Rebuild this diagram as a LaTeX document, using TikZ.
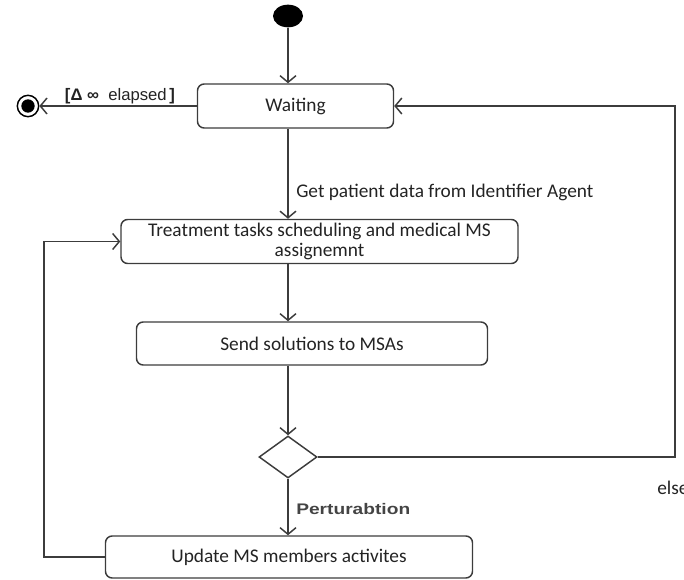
\documentclass[tikz,border=0pt]{standalone}
\usepackage{fontspec}
\setmainfont{Carlito}
\newfontfamily\arialfont{Liberation Sans}
\usetikzlibrary{arrows.meta,shapes.geometric}
\definecolor{linegray}{RGB}{60,60,60}
\definecolor{textgray}{RGB}{35,35,35}

\tikzset{
  state/.style={draw=linegray, rounded corners=5pt, line width=1.1pt, inner sep=0pt,
    text=textgray, font=\fontsize{14.5}{15.5}\selectfont},
  flow/.style={draw=linegray, line width=1.1pt, -{Straight Barb[length=5pt,width=12pt]}},
  guard/.style={text=textgray, font=\fontsize{14.5}{16}\selectfont, inner sep=0pt},
}

\begin{document}
\begin{tikzpicture}[x=0.75pt,y=-0.75pt]
\useasboundingbox (0,0) rectangle (684,580);

\node[ellipse, fill=black, minimum width=22.5pt, minimum height=17pt, inner sep=0pt] (init) at (288,16) {};
\node[state, minimum width=147pt, minimum height=33pt] (wait) at (295.5,106) {Waiting};
\node[state, minimum width=297.75pt, minimum height=33pt, align=center] (treat) at (319.5,241.5)
  {Treatment tasks scheduling and medical MS\\assignemnt};
\node[state, minimum width=263.25pt, minimum height=32.25pt] (send) at (312,343.5) {Send solutions to MSAs};
\node[diamond, draw=linegray, line width=1.1pt, minimum width=43.5pt, minimum height=31.5pt, inner sep=0pt] (dec) at (288,457) {};
\node[state, minimum width=275.25pt, minimum height=31.5pt] (upd) at (289,557) {Update MS members activites};

\node[circle, draw=black, line width=1.1pt, minimum size=16pt, inner sep=0pt] (final) at (28,106) {};
\node[circle, fill=black, minimum size=10pt, inner sep=0pt] (finaldot) at (final) {};

\coordinate (elsecorner) at (675,457);
\coordinate (loopcorner) at (44,557);

\draw[flow] (init) -- (wait.north -| init);
\draw[flow] (wait.west) -- (final);
\draw[flow] (wait.south -| init) -- (treat.north -| init);
\draw[flow] (treat.south -| init) -- (send.north -| init);
\draw[flow] (send.south -| init) -- (dec.north);
\draw[flow] (dec.south) -- (upd.north -| dec);
\draw[flow] (dec.east) -- (elsecorner) |- (wait.east);
\draw[flow] (upd.west) -- (loopcorner) |- (treat.west);

\node[guard, font=\arialfont\fontsize{12.5}{14}\selectfont] (elapsed) at (120,96) {\textbf{[Δ ∞} \ elapsed\,\textbf{]}};
\node[guard, anchor=west] (getdata) at (296,192) {Get patient data from Identifier Agent};
\node[guard, anchor=west, text=textgray!85, font=\arialfont\bfseries\fontsize{11.5}{13}\selectfont] (pert) at (296,509) {\scalebox{1.25}[1]{Perturabtion}};
\node[guard, anchor=west] (elselabel) at (657,488) {else};
\end{tikzpicture}
\end{document}
